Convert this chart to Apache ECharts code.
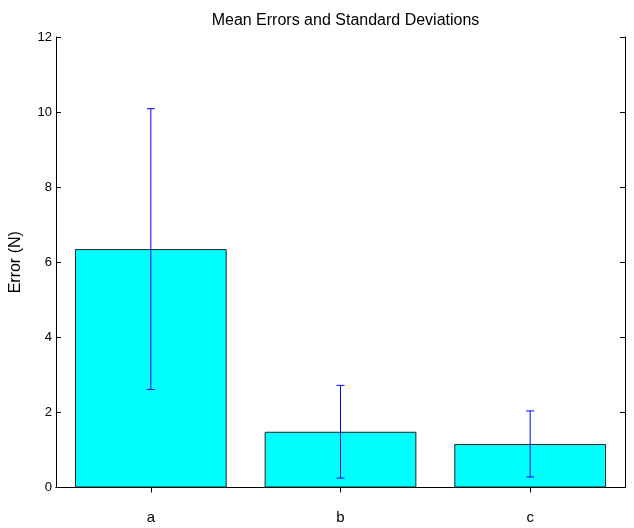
<!DOCTYPE html>
<html>
<head>
<meta charset="utf-8">
<script src="https://cdn.jsdelivr.net/npm/echarts@6/dist/echarts.min.js"></script>
<style>html,body{margin:0;padding:0;background:#fff}#c{width:634px;height:528px}</style>
</head>
<body>
<div id="c"></div>
<script>
var categories = ['a', 'b', 'c'];
var means = [6.35, 1.485, 1.16];
var stds = [3.74, 1.235, 0.88];
var yTicks = [0, 2, 4, 6, 8, 10, 12];

var errData = categories.map(function (c, i) { return [i, means[i] - stds[i], means[i] + stds[i]]; });
var font = 'Liberation Sans, Arial, sans-serif';
var chart = echarts.init(document.getElementById('c'));
chart.setOption({
  animation: false,
  title: {
    text: 'Mean Errors and Standard Deviations',
    left: 340.5, textAlign: 'center', top: 8,
    textStyle: { fontFamily: font, fontSize: 16, fontWeight: 'normal', color: '#000' }
  },
  grid: { left: 56, right: 9, top: 37, bottom: 40.5 },
  xAxis: [{
    type: 'category', data: categories, position: 'bottom',
    axisLine: { show: true, lineStyle: { color: '#000', width: 1 } },
    axisTick: { show: false },
    axisLabel: { fontFamily: font, fontSize: 15, color: '#000', margin: 23 },
    splitLine: { show: false }
  }, {
    type: 'category', data: categories, position: 'top',
    axisLine: { show: true, lineStyle: { color: '#000', width: 1 } },
    axisTick: { show: true, inside: true, alignWithLabel: true, length: 5, lineStyle: { color: '#000' } },
    axisLabel: { show: false }
  }],
  yAxis: [{
    type: 'value', min: 0, max: 12, interval: 2, position: 'left',
    name: 'Error (N)', nameLocation: 'middle', nameGap: 32,
    nameTextStyle: { fontFamily: font, fontSize: 16, color: '#000' },
    axisLine: { show: true, lineStyle: { color: '#000', width: 1 } },
    axisTick: { show: true, inside: true, length: 5, lineStyle: { color: '#000' } },
    axisLabel: { fontFamily: font, fontSize: 13, color: '#000', margin: 4,
      formatter: function (v) { return yTicks.indexOf(v) >= 0 ? String(v) : ''; } },
    splitLine: { show: false }
  }, {
    type: 'value', min: 0, max: 12, interval: 2, position: 'right',
    axisLine: { show: true, lineStyle: { color: '#000', width: 1 } },
    axisTick: { show: true, inside: true, length: 5, lineStyle: { color: '#000' } },
    axisLabel: { show: false },
    splitLine: { show: false }
  }],
  series: [{
    type: 'bar', data: means, barWidth: '80%',
    itemStyle: { color: '#00ffff', borderColor: '#222', borderWidth: 1 }
  }, {
    type: 'custom', data: errData, z: 10,
    encode: { x: 0, y: [1, 2] },
    renderItem: function (params, api) {
      var x = api.value(0);
      var lo = api.coord([x, api.value(1)]);
      var hi = api.coord([x, api.value(2)]);
      var hw = 4;
      var st = { stroke: '#0000ff', lineWidth: 1 };
      return { type: 'group', children: [
        { type: 'line', shape: { x1: lo[0], y1: lo[1], x2: hi[0], y2: hi[1] }, style: st },
        { type: 'line', shape: { x1: lo[0] - hw, y1: lo[1], x2: lo[0] + hw, y2: lo[1] }, style: st },
        { type: 'line', shape: { x1: hi[0] - hw, y1: hi[1], x2: hi[0] + hw, y2: hi[1] }, style: st }
      ] };
    }
  }]
});
</script>
</body>
</html>
